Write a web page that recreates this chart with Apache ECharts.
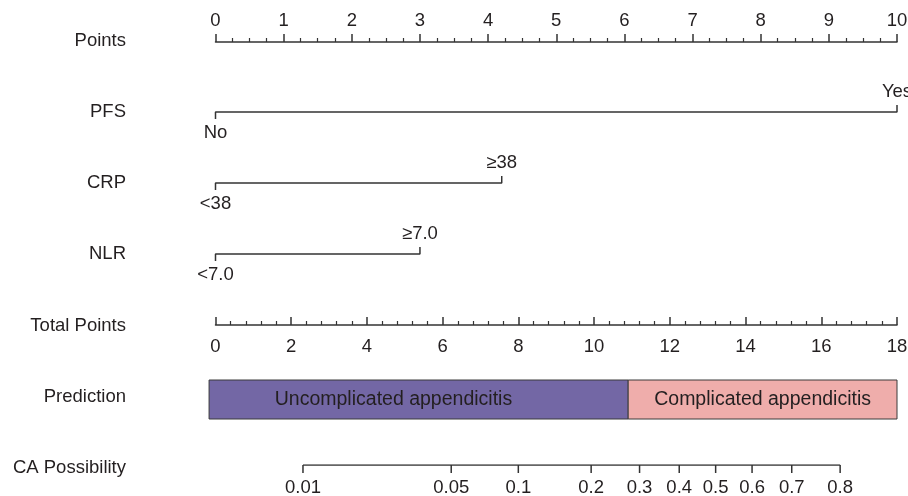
<!DOCTYPE html>
<html>
<head>
<meta charset="utf-8">
<script src="https://cdn.jsdelivr.net/npm/echarts/dist/echarts.min.js"></script>
<style>
  html, body { margin: 0; padding: 0; background: #fff; }
  #chart { width: 908px; height: 496px; }
</style>
</head>
<body>
<div id="chart"></div>
<script>
// nomogram data
const rowNames = ['Points', 'PFS', 'CRP', 'NLR', 'Total Points', 'Prediction', 'CA Possibility']
const pointsMax = 10
const totalMax = 18
const factorLow = ['No', '<38', '<7.0']
const factorHigh = ['Yes', '≥38', '≥7.0']
const factorPoints = [10, 4.2, 3.0]
const predNames = ['Uncomplicated appendicitis', 'Complicated appendicitis']
const predFrom = [-0.17, 10.9]
const predTo = [10.9, 18]
const predLabelAt = [4.7, 14.45]
const caProbs = [0.01, 0.05, 0.1, 0.2, 0.3, 0.4, 0.5, 0.6, 0.7, 0.8]
const caIntercept = 13.21 // total points at logit = 0
const caSlope = 2.372 // total points per logit unit

// layout
const LEFT = 215.5
const RIGHT = 11
const rowY = [41, 112, 183, 254, 326, 397, 468]
const factorLineY = [112, 183, 254]
const FONT = "'Liberation Sans', Arial, Helvetica, sans-serif"
const FS = 18.5
const TXT = '#231f20'
const LINE = '#333333'
const predColors = ['#7367a5', '#efadab']

const tp = p => caIntercept + caSlope * Math.log(p / (1 - p))

const grids = []
const xAxes = []
const yAxes = []
const series = []

function addGrid(top, height) {
  grids.push({ left: LEFT, right: RIGHT, top: top, height: height, outerBoundsMode: 'none', containLabel: false })
  return grids.length - 1
}

function hiddenY(i, min, max) {
  yAxes.push({ gridIndex: i, type: 'value', min: min, max: max, show: false })
}

// Points axis
let g = addGrid(42, 10)
xAxes.push({
  gridIndex: g, type: 'value', position: 'top', min: 0, max: pointsMax, interval: 1,
  axisLine: { show: true, onZero: false, lineStyle: { color: LINE, width: 1.5 } },
  axisTick: { show: true, length: 8, lineStyle: { color: LINE, width: 1.5 } },
  minorTick: { show: true, splitNumber: 4, length: 4, lineStyle: { color: LINE, width: 1.2 } },
  axisLabel: { margin: 12, fontSize: FS, fontFamily: FONT, color: TXT, showMinLabel: true, showMaxLabel: true },
  splitLine: { show: false }
})
hiddenY(g, 0, 1)

// factor rows
factorPoints.forEach((pts, k) => {
  const gi = addGrid(factorLineY[k] - 7, 14)
  xAxes.push({ gridIndex: gi, type: 'value', min: 0, max: pointsMax, show: false })
  hiddenY(gi, -1, 1)
  series.push({
    type: 'line', xAxisIndex: gi, yAxisIndex: gi, symbol: 'none', silent: true,
    lineStyle: { color: LINE, width: 1.5 },
    data: [[0, -1], [0, 0], [pts, 0], [pts, 1]]
  })
  series.push({
    type: 'scatter', xAxisIndex: gi, yAxisIndex: gi, symbolSize: 0, silent: true,
    itemStyle: { opacity: 1 },
    label: { show: true, fontSize: FS, fontFamily: FONT, color: TXT, opacity: 1, distance: 4 },
    data: [
      { value: [0, -1], label: { position: 'bottom', formatter: factorLow[k] } },
      { value: [pts, 1], label: { position: 'top', formatter: factorHigh[k] } }
    ]
  })
})

// Total points axis
g = addGrid(315, 10)
xAxes.push({
  gridIndex: g, type: 'value', position: 'bottom', min: 0, max: totalMax, interval: 2,
  axisLine: { show: true, onZero: false, lineStyle: { color: LINE, width: 1.5 } },
  axisTick: { show: true, inside: true, length: 8, lineStyle: { color: LINE, width: 1.5 } },
  minorTick: { show: true, splitNumber: 5, length: 4, lineStyle: { color: LINE, width: 1.2 } },
  axisLabel: { margin: 12, fontSize: FS, fontFamily: FONT, color: TXT, showMinLabel: true, showMaxLabel: true },
  splitLine: { show: false }
})
hiddenY(g, 0, 1)

// Prediction bar
g = addGrid(380, 39)
xAxes.push({ gridIndex: g, type: 'value', min: 0, max: totalMax, show: false })
hiddenY(g, 0, 1)
series.push({
  type: 'custom', xAxisIndex: g, yAxisIndex: g, silent: true,
  data: predNames.map((n, i) => [predFrom[i], predTo[i], predLabelAt[i], n]),
  renderItem: function (params, api) {
    const a = api.coord([api.value(0), 1])
    const b = api.coord([api.value(1), 0])
    const c = api.coord([api.value(2), 0.5])
    return {
      type: 'group',
      children: [
        {
          type: 'rect',
          shape: { x: a[0], y: a[1], width: b[0] - a[0], height: b[1] - a[1] },
          style: { fill: predColors[params.dataIndex], stroke: '#3a3a3a', lineWidth: 1 }
        },
        {
          type: 'text',
          style: {
            text: predNames[params.dataIndex], x: c[0], y: c[1],
            align: 'center', verticalAlign: 'middle', textAlign: 'center', textVerticalAlign: 'middle',
            fontSize: 19.5, fontFamily: FONT, fill: TXT
          }
        }
      ]
    }
  }
})

// CA possibility axis
g = addGrid(465, 8)
xAxes.push({ gridIndex: g, type: 'value', min: 0, max: totalMax, show: false })
hiddenY(g, -1, 0)
series.push({
  type: 'line', xAxisIndex: g, yAxisIndex: g, symbol: 'none', silent: true,
  lineStyle: { color: LINE, width: 1.5 },
  data: [[tp(caProbs[0]), 0], [tp(caProbs[caProbs.length - 1]), 0]]
})
series.push({
  type: 'custom', xAxisIndex: g, yAxisIndex: g, silent: true,
  data: caProbs.map(p => [tp(p), p]),
  renderItem: function (params, api) {
    const top = api.coord([api.value(0), 0])
    const bot = api.coord([api.value(0), -1])
    return {
      type: 'group',
      children: [
        { type: 'line', shape: { x1: top[0], y1: top[1], x2: bot[0], y2: bot[1] }, style: { stroke: LINE, lineWidth: 1.5 } },
        {
          type: 'text',
          style: {
            text: String(caProbs[params.dataIndex]), x: top[0], y: bot[1] + 15,
            align: 'center', verticalAlign: 'middle', textAlign: 'center', textVerticalAlign: 'middle',
            fontSize: FS, fontFamily: FONT, fill: TXT
          }
        }
      ]
    }
  }
})

const chart = echarts.init(document.getElementById('chart'))
chart.setOption({
  animation: false,
  backgroundColor: '#ffffff',
  grid: grids,
  xAxis: xAxes,
  yAxis: yAxes,
  series: series,
  graphic: rowNames.map((n, i) => ({
    type: 'text', x: 126, y: rowY[i], silent: true,
    style: {
      text: n, align: 'right', verticalAlign: 'middle', textAlign: 'right', textVerticalAlign: 'middle',
      fontSize: FS, fontFamily: FONT, fill: TXT
    }
  }))
})
</script>
</body>
</html>
